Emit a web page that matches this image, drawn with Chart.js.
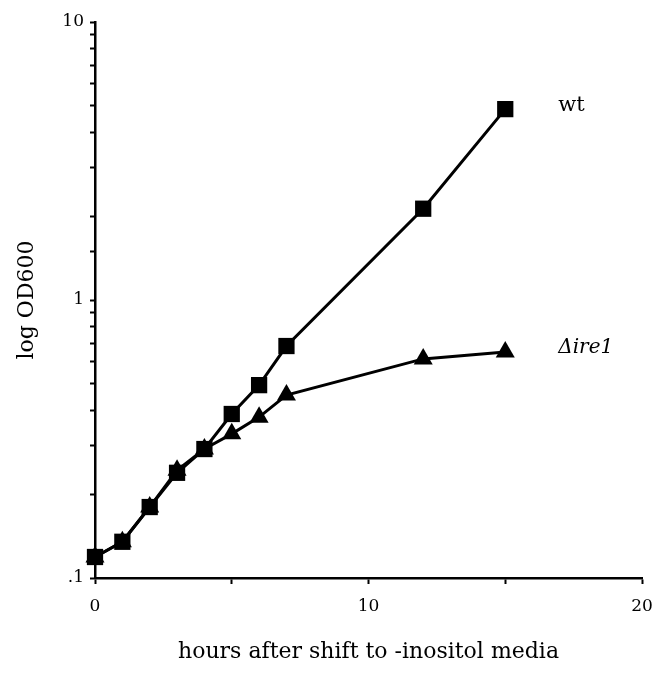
<!DOCTYPE html>
<html>
<head>
<meta charset="utf-8">
<script src="https://cdn.jsdelivr.net/npm/chart.js@4"></script>
<style>
  html, body { margin: 0; padding: 0; background: #fff; }
  #wrap { width: 665px; height: 687px; }
</style>
</head>
<body>
<div id="wrap"><canvas id="growthChart" width="665" height="687"></canvas></div>
<script>
// hours after shift to -inositol media
var hours = [0, 1, 2, 3, 4, 5, 6, 7, 12, 15];
// OD600 readings
var wtOD = [0.119, 0.135, 0.180, 0.239, 0.291, 0.389, 0.494, 0.683, 2.13, 4.86];
var ire1OD = [0.119, 0.135, 0.180, 0.244, 0.291, 0.330, 0.379, 0.455, 0.614, 0.650];
var seriesNames = ['wt', '\u0394ire1'];
var yTickLabels = {'0.1': '.1', '1': '1', '10': '10'};
var xTickLabels = {'0': '0', '10': '10', '20': '20'};

var serif = '"DejaVu Serif", "Liberation Serif", serif';

function pts(vals){
    return hours.map(function(h, i){ return {x: h, y: vals[i]}; });
}

// writes the series name to the right of each line's last point
var endLabels = {
    id: 'endLabels',
    afterDatasetsDraw: function(chart){
        var ctx = chart.ctx;
        ctx.save();
        ctx.fillStyle = '#000';
        ctx.textBaseline = 'middle';
        chart.data.datasets.forEach(function(ds, i){
            var last = ds.data[ds.data.length - 1];
            var px = chart.scales.x.getPixelForValue(last.x);
            var py = chart.scales.y.getPixelForValue(last.y);
            ctx.font = i === 1 ? 'italic 20px ' + serif : '21px ' + serif;
            ctx.fillText(ds.label, px + 53, py - 4);
        });
        ctx.restore();
    }
};

new Chart(document.getElementById('growthChart').getContext('2d'), {
    type: 'line',
    data: {
        datasets: [
            {label: seriesNames[0], data: pts(wtOD), borderColor: '#000', backgroundColor: '#000', clip: false,
             borderWidth: 3, pointStyle: 'rect', pointRadius: 11.5, pointBorderWidth: 0, tension: 0},
            {label: seriesNames[1], data: pts(ire1OD), borderColor: '#000', backgroundColor: '#000', clip: false,
             borderWidth: 3, pointStyle: 'triangle', pointRadius: 11, pointBorderWidth: 0, tension: 0}
        ]
    },
    options: {
        responsive: false,
        animation: false,
        layout: {padding: {top: 22, right: 23, left: 0, bottom: 0}},
        plugins: {legend: {display: false}, tooltip: {enabled: false}},
        scales: {
            x: {
                type: 'linear', min: 0, max: 20,
                afterFit: function(s){ s.height = 109; },
                border: {display: true, color: '#000', width: 2.5},
                grid: {display: true, drawOnChartArea: false, tickLength: 6, tickColor: '#000', tickWidth: 2},
                ticks: {stepSize: 5, color: '#000', padding: 12, maxRotation: 0, autoSkip: false,
                        font: {family: serif, size: 17},
                        callback: function(v){ return xTickLabels[String(v)] || ''; }},
                title: {display: true, text: 'hours after shift to -inositol media', color: '#000',
                        font: {family: serif, size: 22}, padding: {bottom: 22}}
            },
            y: {
                type: 'logarithmic', min: 0.1, max: 10,
                afterFit: function(s){ s.width = 95; },
                border: {display: true, color: '#000', width: 2.5},
                grid: {display: true, drawOnChartArea: false, tickLength: 5, tickColor: '#000', tickWidth: 2},
                ticks: {color: '#000', padding: 6, autoSkip: false,
                        font: {family: serif, size: 17},
                        callback: function(v){
                            var k = String(Math.round(v * 1000) / 1000);
                            return yTickLabels[k] || '';
                        }},
                title: {display: true, text: 'log OD600', color: '#000',
                        font: {family: serif, size: 22}, padding: {top: 14}}
            }
        }
    },
    plugins: [endLabels]
});
</script>
</body>
</html>
